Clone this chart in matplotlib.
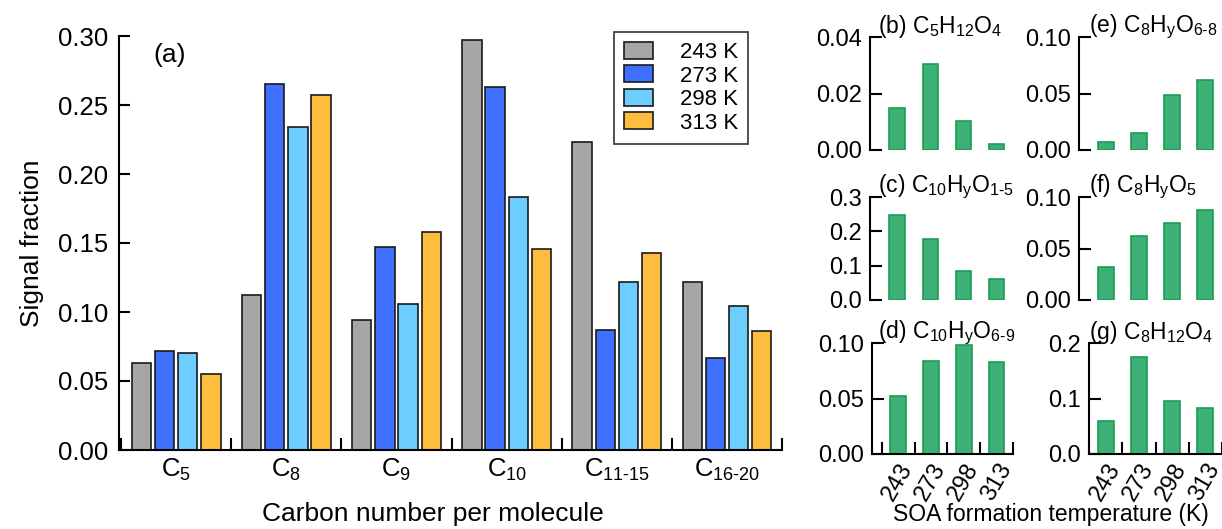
import numpy as np
import matplotlib
matplotlib.use("Agg")
import matplotlib.pyplot as plt
from matplotlib.patches import Patch

plt.rcParams['font.family'] = ['Liberation Sans', 'DejaVu Sans']
plt.rcParams['mathtext.fontset'] = 'custom'
plt.rcParams['mathtext.rm'] = 'Liberation Sans'
plt.rcParams['mathtext.it'] = 'Liberation Sans'
plt.rcParams['mathtext.default'] = 'regular'

# panel (a) data
groups = ['C$_5$', 'C$_8$', 'C$_9$', 'C$_{10}$', 'C$_{11\u201015}$', 'C$_{16\u201020}$']
temps = ['243 K', '273 K', '298 K', '313 K']
val_243 = [0.063, 0.112, 0.094, 0.297, 0.223, 0.122]
val_273 = [0.072, 0.265, 0.147, 0.263, 0.087, 0.067]
val_298 = [0.070, 0.234, 0.106, 0.183, 0.122, 0.104]
val_313 = [0.055, 0.257, 0.158, 0.146, 0.143, 0.086]
colors = ['#a6a6a6', '#3f6fff', '#6dcdff', '#ffbd3f']

# small panels data
temp_ticks = ['243', '273', '298', '313']
b_vals = [0.0148, 0.0303, 0.0104, 0.0020]
c_vals = [0.247, 0.179, 0.084, 0.061]
d_vals = [0.052, 0.084, 0.098, 0.083]
e_vals = [0.0073, 0.0153, 0.049, 0.0617]
f_vals = [0.0316, 0.062, 0.0748, 0.0871]
g_vals = [0.0595, 0.175, 0.0955, 0.0834]

W, H = 1222, 529
fig = plt.figure(figsize=(W / 100, H / 100), dpi=100)


def px_axes(left, top, right, bottom):
    return fig.add_axes([left / W, 1 - bottom / H, (right - left) / W, (bottom - top) / H])


def igor_style(ax):
    ax.spines['top'].set_visible(False)
    ax.spines['right'].set_visible(False)
    for s in ['left', 'bottom']:
        ax.spines[s].set_linewidth(1.5)


# ---- panel (a)
ax = px_axes(119, 36, 782, 450)
igor_style(ax)
x = np.arange(len(groups))
series = [val_243, val_273, val_298, val_313]
offs = [-0.315, -0.105, 0.105, 0.315]
for vals, off, col, lab in zip(series, offs, colors, temps):
    ax.bar(x + off, vals, width=0.175, color=col, edgecolor='#1a1a1a', linewidth=1.2, label=lab)
ax.set_xlim(-0.52, 5.5)
ax.set_ylim(0, 0.30)
ax.set_yticks(np.arange(0, 0.31, 0.05))
ax.set_yticklabels(['%.2f' % v for v in np.arange(0, 0.31, 0.05)])
ax.tick_params(axis='y', direction='in', length=8, width=1.5, labelsize=18.5, pad=8)
ax.set_xticks(x)
ax.set_xticklabels(groups)
ax.tick_params(axis='x', which='major', length=0, labelsize=18.5, pad=5)
ax.set_xticks(np.arange(-0.5, 5.6, 1), minor=True)
ax.tick_params(axis='x', which='minor', direction='in', length=8.5, width=1.5)
ax.text(0.052, 0.955, '(a)', transform=ax.transAxes, fontsize=19, va='center')
ax.set_ylabel('Signal fraction', fontsize=19, labelpad=10)
fig.text(433 / W, 1 - 514 / H, 'Carbon number per molecule', fontsize=19, ha='center', va='center')
handles = [Patch(facecolor=c, edgecolor='#1a1a1a', linewidth=1.2) for c in colors]
leg = ax.legend(handles, temps, loc='upper left', bbox_to_anchor=(614 / W, 1 - 32 / H),
                bbox_transform=fig.transFigure, fontsize=16, frameon=True, fancybox=False,
                handlelength=1.3, handleheight=0.8, handletextpad=1.2, labelspacing=0.1,
                borderpad=0.45, borderaxespad=0)
leg.get_frame().set_edgecolor('black')
leg.get_frame().set_linewidth(1.2)

# ---- small panels
green = '#3db175'
green_edge = '#1a9d55'
panels = [
    (870, 37, 1013, 150, b_vals, (0, 0.04), [0, 0.02, 0.04], '%.2f', '(b) C$_5$H$_{12}$O$_4$', -0.83, False, 878),
    (870, 197, 1013, 300, c_vals, (0, 0.3), [0, 0.1, 0.2, 0.3], '%.1f', '(c) C$_{10}$H$_y$O$_{1\u20105}$', -0.83, False, 878),
    (872, 343, 1013, 454, d_vals, (0, 0.10), [0, 0.05, 0.10], '%.2f', '(d) C$_{10}$H$_y$O$_{6\u20109}$', -0.8, True, 878),
    (1079, 37, 1222, 150, e_vals, (0, 0.10), [0, 0.05, 0.10], '%.2f', '(e) C$_8$H$_y$O$_{6\u20108}$', -0.8, False, 1089),
    (1079, 197, 1222, 300, f_vals, (0, 0.10), [0, 0.05, 0.10], '%.2f', '(f) C$_8$H$_y$O$_5$', -0.8, False, 1089),
    (1089, 343, 1222, 454, g_vals, (0, 0.2), [0, 0.1, 0.2], '%.1f', '(g) C$_8$H$_{12}$O$_4$', -0.5, True, 1089),
]
for left, top, right, bottom, vals, ylim, yt, fmt, title, x0, bottom_axis, tx in panels:
    a = px_axes(left, top, right, bottom)
    igor_style(a)
    xi = np.arange(len(vals))
    a.bar(xi, vals, width=0.48, color=green, edgecolor=green_edge, linewidth=1.2)
    a.set_xlim(x0, 3.5)
    a.set_ylim(*ylim)
    a.set_yticks(yt)
    a.set_yticklabels([fmt % v for v in yt])
    a.tick_params(axis='y', direction='in', length=8.5, width=1.5, labelsize=17, pad=6)
    fig.text(tx / W, 1 - (top - 10) / H, title, fontsize=16.5, ha='left', va='center')
    if bottom_axis:
        a.set_xticks(xi)
        a.set_xticklabels(temp_ticks, rotation=60, ha='right', rotation_mode='anchor')
        a.tick_params(axis='x', which='major', length=0, labelsize=17, pad=4)
        a.set_xticks(np.arange(-0.5, 3.6, 1), minor=True)
        a.tick_params(axis='x', which='minor', direction='in', length=8.5, width=1.5)
    else:
        a.spines['bottom'].set_visible(False)
        a.set_xticks([])

fig.text(1051 / W, 1 - 514 / H, 'SOA formation temperature (K)', fontsize=16.5, ha='center', va='center')

fig.savefig('out.png', dpi=100)
